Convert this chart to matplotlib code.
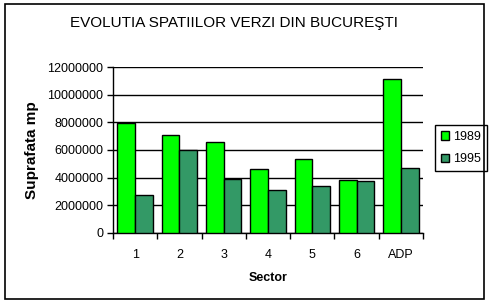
import matplotlib
matplotlib.use("Agg")
import matplotlib.pyplot as plt
from matplotlib.patches import Rectangle
import numpy as np

plt.rcParams['font.family'] = ['Liberation Sans', 'DejaVu Sans']

categories = ["1", "2", "3", "4", "5", "6", "ADP"]
series_names = ["1989", "1995"]
values_1989 = [7940000, 7070000, 6560000, 4600000, 5330000, 3800000, 11180000]
values_1995 = [2710000, 6000000, 3870000, 3080000, 3370000, 3730000, 4670000]
y_ticks = [0, 2000000, 4000000, 6000000, 8000000, 10000000, 12000000]
colors = ["#00ff00", "#339966"]

W, H = 492, 305
fig = plt.figure(figsize=(W / 100, H / 100), dpi=100)
fig.patch.set_facecolor("white")

# outer chart border
fig.add_artist(Rectangle((5 / W, 1 - 299 / H), (484 - 5) / W, (299 - 4) / H,
                         transform=fig.transFigure, fill=False,
                         edgecolor="black", linewidth=1.2))

ax = fig.add_axes([113 / W, 1 - 232.7 / H, (423 - 113) / W, (232.7 - 67.3) / H])
x = np.arange(len(categories))
bw = 0.4
ax.bar(x - bw / 2, values_1989, width=bw, color=colors[0], edgecolor="black",
       linewidth=1, label=series_names[0], zorder=3)
ax.bar(x + bw / 2, values_1995, width=bw, color=colors[1], edgecolor="black",
       linewidth=1, label=series_names[1], zorder=3)

ax.set_xlim(-0.5, len(categories) - 0.5)
ax.set_ylim(0, 12000000)
ax.set_yticks(y_ticks)
ax.set_yticklabels([str(v) for v in y_ticks], fontsize=9)
ax.yaxis.grid(True, color="black", linewidth=1, zorder=0)
ax.set_axisbelow(True)

# category ticks at boundaries, labels at centers
ax.set_xticks(np.arange(len(categories) + 1) - 0.5)
ax.set_xticklabels([])
ax.set_xticks(x, minor=True)
ax.set_xticklabels(categories, minor=True, fontsize=9)
ax.tick_params(axis="x", which="minor", length=0, pad=12)
ax.tick_params(axis="x", which="major", length=4, width=1, direction="out")
ax.tick_params(axis="y", length=4, width=1, direction="out", pad=3)

for s in ["top", "right"]:
    ax.spines[s].set_visible(False)
ax.spines["left"].set_linewidth(1)
ax.spines["bottom"].set_linewidth(1)

ax.set_xlabel("Sector", fontsize=9, fontweight="bold", labelpad=8)
ax.set_ylabel("Suprafata mp", fontsize=11, fontweight="bold", labelpad=6)

fig.text(234 / W, 1 - 23.5 / H, "EVOLUTIA SPATIILOR VERZI DIN BUCUREŞTI",
         ha="center", va="center", fontsize=11)

leg = ax.legend(loc="center left", bbox_to_anchor=(435 / W, 1 - 148 / H),
                bbox_transform=fig.transFigure, fontsize=9, frameon=True,
                fancybox=False, edgecolor="black", framealpha=1,
                handlelength=0.7, handleheight=0.7, handletextpad=0.3,
                borderpad=0.45, labelspacing=0.85, borderaxespad=0)
leg.get_frame().set_linewidth(1)

fig.savefig("out.png", dpi=100)
